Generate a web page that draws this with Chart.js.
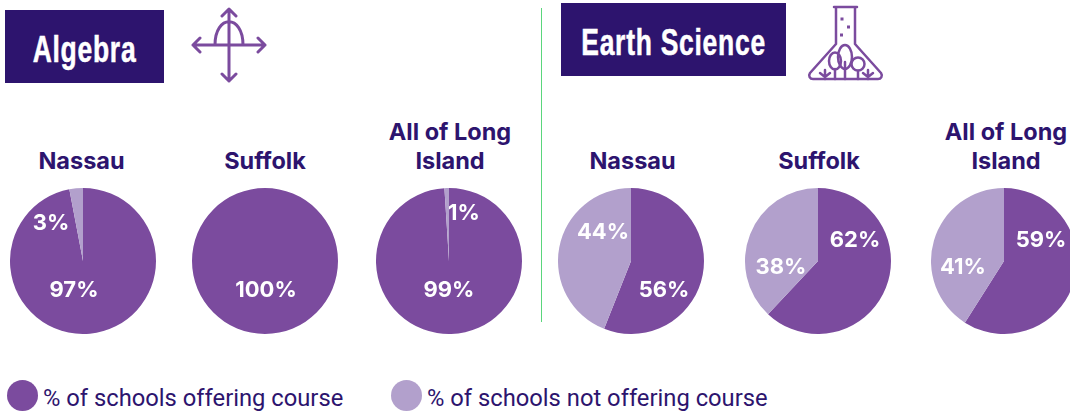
<!DOCTYPE html>
<html><head><meta charset="utf-8">
<script src="https://cdn.jsdelivr.net/npm/chart.js@4"></script>
<style>
html,body{margin:0;padding:0;width:1070px;height:411px;overflow:hidden;background:#fff}
body{position:relative}
.abs{position:absolute}
.box{background:#2d146e;color:#fff;font:bold 36px "Liberation Sans",sans-serif;display:flex;align-items:center;justify-content:center;box-sizing:border-box;padding-top:6px}
.box span{display:inline-block;white-space:nowrap;transform:scaleX(.735);letter-spacing:1px;-webkit-text-stroke:.5px #fff}
.pt{position:absolute;text-align:center;color:#2d146e;font:bold 23.5px/29px Inter,"Open Sans",sans-serif;transform:translateX(-50%);white-space:nowrap}
.lg{position:absolute;color:#2d146e;font:23.75px/30px Roboto,sans-serif;white-space:nowrap}
.dot{position:absolute;width:31px;height:31px;border-radius:50%}
canvas{position:absolute}
</style></head><body>
<div class="abs box" style="left:5px;top:10px;width:159px;height:73px"><span>Algebra</span></div>
<div class="abs box" style="left:561px;top:3px;width:225px;height:73px"><span>Earth Science</span></div>
<div class="abs" style="left:541px;top:8px;width:1px;height:314px;background:#5ad67c"></div>
<svg class="abs" style="left:185px;top:3px" width="90" height="85" viewBox="185 3 90 85" fill="none" stroke="#7b4b9e" stroke-width="3" stroke-linecap="round" stroke-linejoin="round">
<path d="M229 9V81M222 16l7-7 7 7M222 74l7 7 7-7M193 45H265M200 38l-7 7 7 7M258 38l7 7-7 7M215 45c0-31 28-31 28 0"/></svg>
<svg class="abs" style="left:800px;top:0" width="90" height="85" viewBox="800 0 90 85" fill="none" stroke="#7b4b9e" stroke-width="2.5" stroke-linecap="round" stroke-linejoin="round">
<path d="M834 7H857M836 7V44L810 73c-2 3 0 6 3 6H878c3 0 5-3 3-6L855 44V7"/>
<ellipse cx="835" cy="61" rx="6" ry="8.5"/><path d="M835 69V79"/>
<ellipse cx="845" cy="57" rx="7" ry="12"/><path d="M845 62V79"/>
<circle cx="858" cy="64" r="6.5"/><path d="M858 71V79"/>
<path d="M825 79V70M820 73l5 4 5-4M868 79V70M863 73l5 4 5-4"/>
<path stroke-linecap="butt" stroke-width="3" d="M840.500 19h3M847 27h3M840 35h3"/></svg>

<div class="pt" style="left:81.500px;top:146px">Nassau</div>
<div class="pt" style="left:265px;top:146px">Suffolk</div>
<div class="pt" style="left:450px;top:117px">All of Long<br>Island</div>
<div class="pt" style="left:632.500px;top:146px">Nassau</div>
<div class="pt" style="left:819px;top:146px">Suffolk</div>
<div class="pt" style="left:1006px;top:117px">All of Long<br>Island</div>

<div class="dot" style="left:7px;top:380px;background:#7b4b9e"></div>
<div class="lg" id="lg0" style="left:43px;top:383px"></div>
<div class="dot" style="left:391px;top:380px;background:#b2a0cc"></div>
<div class="lg" id="lg1" style="left:427px;top:383px"></div>

<canvas id="c0" width="146" height="146" style="left:10px;top:188px"></canvas>
<canvas id="c1" width="146" height="146" style="left:191.500px;top:188px"></canvas>
<canvas id="c2" width="146" height="146" style="left:375.500px;top:188px"></canvas>
<canvas id="c3" width="146" height="146" style="left:558px;top:188px"></canvas>
<canvas id="c4" width="146" height="146" style="left:745px;top:188px"></canvas>
<canvas id="c5" width="146" height="146" style="left:931px;top:188px"></canvas>
<script>
const seriesNames = ["% of schools offering course", "% of schools not offering course"];
const offering    = [97, 100, 99, 56, 62, 59];
const notOffering = [3, 0, 1, 44, 38, 41];
const colours = ["#7b4b9e", "#b2a0cc"];
// label centres, relative to each pie's centre (layout only)
const offeringLabelOffset    = [[-9,29],[1,29],[0,29],[33,29],[37,-21],[37,-21]];
const notOfferingLabelOffset = [[-32,-38],null,[15,-48],[-28,-29],[-37,6],[-41,6]];

document.getElementById('lg0').textContent = seriesNames[0];
document.getElementById('lg1').textContent = seriesNames[1];

const pctLabels = {
  id:'pctLabels',
  afterDatasetsDraw(chart, args, opts){
    const {ctx} = chart;
    const meta = chart.getDatasetMeta(0);
    const arc = meta.data[0];
    ctx.save();
    ctx.fillStyle = '#fff';
    ctx.font = 'bold 22px Inter, sans-serif';
    ctx.textAlign = 'center';
    ctx.textBaseline = 'middle';
    chart.data.datasets[0].data.forEach((v,i)=>{
      const o = opts.offsets[i];
      if(!v || !o) return;
      ctx.fillText(v + '%', arc.x + o[0], arc.y + o[1]);
    });
    ctx.restore();
  }
};
offering.forEach((v,i)=>{
  const c = document.getElementById('c'+i);
  new Chart(c,{
    type:'pie',
    data:{labels:seriesNames,datasets:[{data:[v,notOffering[i]],backgroundColor:colours,borderWidth:0}]},
    options:{
      responsive:false,animation:false,
      layout:{padding:0},
      plugins:{legend:{display:false},tooltip:{enabled:false},
        pctLabels:{offsets:[offeringLabelOffset[i],notOfferingLabelOffset[i]]}}
    },
    plugins:[pctLabels]
  });
});
</script>
</body></html>
